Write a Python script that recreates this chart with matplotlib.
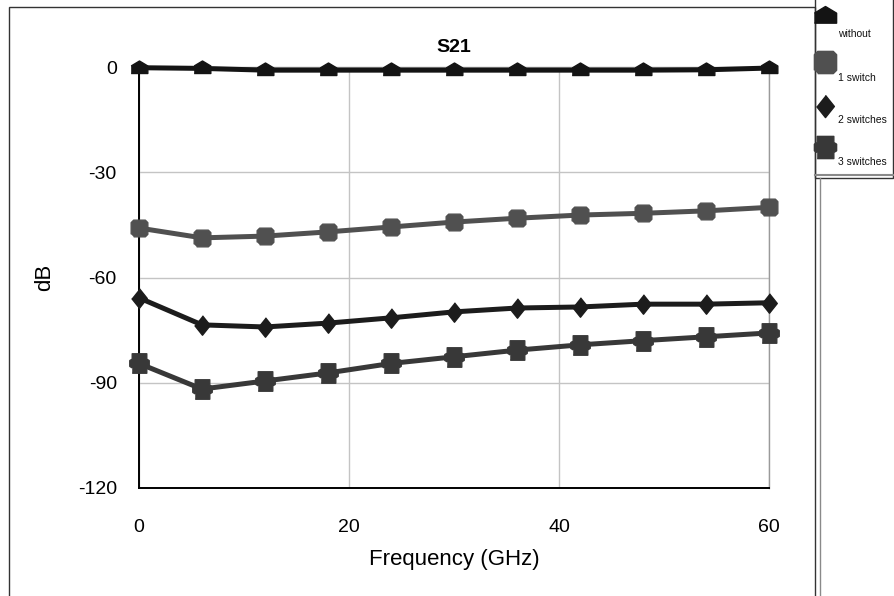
import matplotlib
matplotlib.use("Agg")
import matplotlib.pyplot as plt
from matplotlib.patches import Rectangle
from matplotlib.lines import Line2D

plt.rcParams['font.family'] = ['Liberation Sans', 'DejaVu Sans']
plt.rcParams['axes.unicode_minus'] = False

# data
freq = [0, 6, 12, 18, 24, 30, 36, 42, 48, 54, 60]
without = [-0.2, -0.4, -0.9, -0.9, -0.9, -0.9, -0.9, -0.9, -0.9, -0.8, -0.3]
one_switch = [-45.9, -48.7, -48.2, -47.0, -45.6, -44.2, -43.1, -42.2, -41.7, -41.0, -40.0]
two_switches = [-65.8, -73.5, -74.1, -73.0, -71.5, -69.8, -68.7, -68.4, -67.6, -67.6, -67.2]
three_switches = [-84.5, -91.8, -89.5, -87.2, -84.5, -82.6, -80.7, -79.2, -78.0, -76.9, -75.8]
labels = ['without', '1 switch', '2 switches', '3 switches']
xticks = [0, 20, 40, 60]
yticks = [0, -30, -60, -90, -120]

# marker shapes
house = [(-1, -0.6), (1, -0.6), (1, 0.3), (0, 0.9), (-1, 0.3)]
rsquare = [(-0.7, -1), (0.7, -1), (1, -0.7), (1, 0.7), (0.7, 1), (-0.7, 1), (-1, 0.7), (-1, -0.7)]
diamond = [(0, 1), (0.8, 0), (0, -1), (-0.8, 0)]
notched = [(-0.75, -1), (0.75, -1), (0.75, -0.45), (1, -0.3), (1, 0.3), (0.75, 0.45),
           (0.75, 1), (-0.75, 1), (-0.75, 0.45), (-1, 0.3), (-1, -0.3), (-0.75, -0.45)]

series = [without, one_switch, two_switches, three_switches]
colors = ['#141414', '#505050', '#1c1c1c', '#383838']
markers = [house, rsquare, diamond, notched]
msizes = [12, 12, 14, 14]

W, H = 895, 596
fig = plt.figure(figsize=(W / 100, H / 100), dpi=100)
ax = fig.add_axes([139 / W, 1 - 488 / H, 630 / W, 421 / H])

for ys, c, m, ms, lab in zip(series, colors, markers, msizes, labels):
    ax.plot(freq, ys, color=c, lw=3.6, marker=m, markersize=ms,
            markeredgecolor=c, markerfacecolor=c, clip_on=False, zorder=3, label=lab)

ax.set_xlim(0, 60)
ax.set_ylim(-120, 0)
ax.set_xticks(xticks)
ax.set_yticks(yticks)
ax.grid(True, color='#c4c4c4', lw=1)
ax.tick_params(length=0, labelsize=14)
ax.tick_params(axis='x', pad=22)
ax.tick_params(axis='y', pad=16)
for s in ['left', 'bottom']:
    ax.spines[s].set_color('black')
    ax.spines[s].set_linewidth(1.4)
for s in ['top', 'right']:
    ax.spines[s].set_color('#9a9a9a')
    ax.spines[s].set_linewidth(1)
ax.set_xlabel('Frequency (GHz)', fontsize=16, labelpad=10)
ax.set_ylabel('dB', fontsize=16, labelpad=16)
ax.set_title('S21', fontsize=14, fontweight='bold', pad=11)

# outer frame and legend box
fig.add_artist(Rectangle((9 / W, -0.01), (815 - 9) / W, 1 - 7 / H + 0.01,
                         transform=fig.transFigure, fill=False, ec='#333333', lw=1))
fig.add_artist(Rectangle((815 / W, 1 - 178 / H), 78 / W, 178 / H + 0.01,
                         transform=fig.transFigure, fill=False, ec='#333333', lw=1))
fig.add_artist(Line2D([815 / W, 893 / W], [1 - 175 / H, 1 - 175 / H],
                      transform=fig.transFigure, color='#8a8a8a', lw=1.5))
fig.add_artist(Line2D([820 / W, 820 / W], [0, 1 - 178 / H],
                      transform=fig.transFigure, color='#8a8a8a', lw=1))

# hand-made legend: marker with label below-right
mark_y = [16, 62, 106, 147]
text_y = [34, 78, 120, 162]
for c, m, lab, my, ty in zip(colors, markers, labels, mark_y, text_y):
    fig.add_artist(Line2D([825 / W], [1 - my / H], transform=fig.transFigure,
                          marker=m, markersize=16, color=c, markeredgecolor=c, lw=0))
    fig.text(838 / W, 1 - ty / H, lab, fontsize=7.5, va='center', ha='left', color='#111111')

fig.savefig('out.png', dpi=100)
